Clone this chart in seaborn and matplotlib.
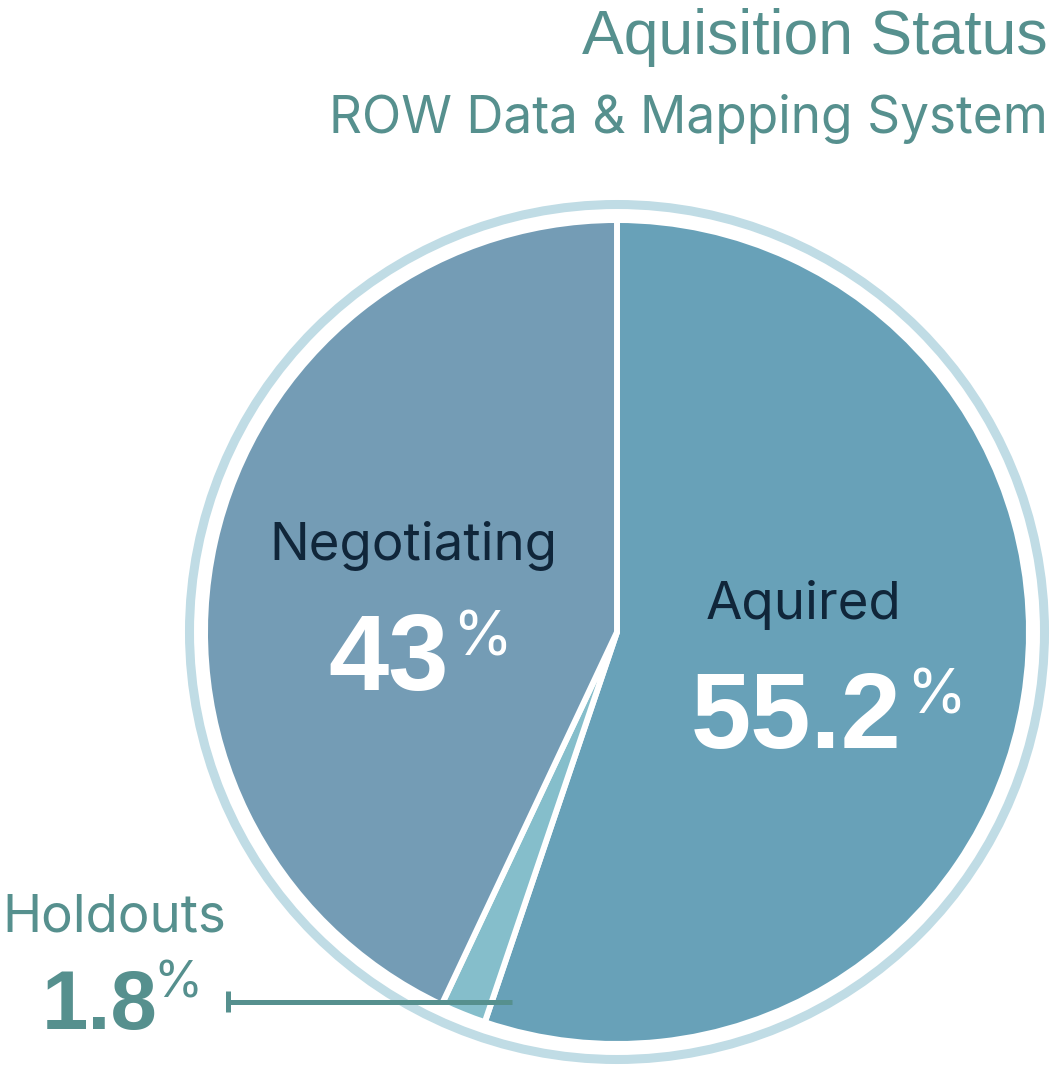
import numpy as np
import pandas as pd
import matplotlib
matplotlib.use("Agg")
import matplotlib.pyplot as plt
import seaborn as sns

# data
labels = ["Aquired", "Holdouts", "Negotiating"]
shares = [55.2, 1.8, 43]
share_text = ["55.2", "1.8", "43"]

sns.set_theme(style="white")
plt.rcParams['font.family'] = ['Inter', 'Liberation Sans', 'DejaVu Sans']
num_font = ['Liberation Sans', 'DejaVu Sans']

colors = sns.color_palette(["#68a1b8", "#85becb", "#749cb5"])
teal = "#56908e"
dark = "#10263a"
ring = "#c0dce5"

fig = plt.figure(figsize=(10.55, 10.65), dpi=100)
ax = fig.add_axes([0, 0, 1, 1])

# pie, pixel coords with y up
cx, cy = 617, 1065 - 632
ax.pie(shares, colors=colors, startangle=90, counterclock=False,
       center=(cx, cy), radius=412,
       wedgeprops=dict(edgecolor="white", linewidth=4.3))
ax.add_patch(plt.Circle((cx, cy), 427.5, fill=False, color=ring, lw=6.5))

ax.set_xlim(0, 1055)
ax.set_ylim(0, 1065)
ax.set_aspect("equal")
ax.axis("off")

# titles
ax.text(1048, 1011, "Aquisition Status", ha="right", va="baseline",
        fontsize=45, color=teal, family=num_font)
ax.text(1048, 932, "ROW Data & Mapping System", ha="right", va="baseline",
        fontsize=37, color=teal)

# Negotiating
ax.text(413, 505, labels[2], ha="center", va="baseline", fontsize=38, color=dark)
ax.text(328, 375, share_text[2], ha="left", va="baseline", fontsize=78,
        fontweight="bold", color="white", family=num_font)
ax.text(452, 410, "%", ha="left", va="baseline", fontsize=44, color="white")

# Aquired
ax.text(706, 446, labels[0], ha="left", va="baseline", fontsize=38, color=dark)
ax.text(691, 317, share_text[0], ha="left", va="baseline", fontsize=78,
        fontweight="bold", color="white", family=num_font)
ax.text(906, 352, "%", ha="left", va="baseline", fontsize=44, color="white")

# Holdouts
ax.text(2, 134, labels[1], ha="left", va="baseline", fontsize=38, color=teal)
ax.text(42, 36, share_text[1], ha="left", va="baseline", fontsize=60,
        fontweight="bold", color=teal, family=num_font)
ax.text(153, 67, "%", ha="left", va="baseline", fontsize=36, color=teal)

# leader line
ax.plot([228, 512], [63, 63], color=teal, lw=3.6, solid_capstyle="butt")
ax.plot([228, 228], [53, 74], color=teal, lw=3.6, solid_capstyle="butt")

fig.savefig("out.png", dpi=100)
